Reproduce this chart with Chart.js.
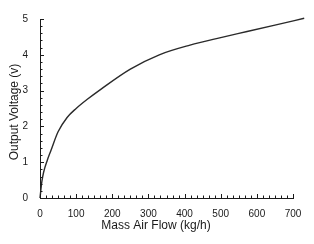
<!DOCTYPE html>
<html>
<head>
<meta charset="utf-8">
<script src="https://cdn.jsdelivr.net/npm/chart.js@4"></script>
<style>
  html, body { margin: 0; padding: 0; background: #fff; }
  #wrap { width: 314px; height: 244px; }
</style>
</head>
<body>
<div id="wrap"><canvas id="c" width="314" height="244"></canvas></div>
<script>
// values
const massFlow = [0, 5, 10, 20, 30, 50, 75, 100, 130, 170, 250, 330, 415, 500, 573, 650, 731];
const voltage  = [0, 0.45, 0.72, 1.05, 1.32, 1.85, 2.25, 2.5, 2.75, 3.05, 3.6, 4.0, 4.27, 4.48, 4.65, 4.83, 5.02];
const xTickLabels = [0, 100, 200, 300, 400, 500, 600, 700];
const yTickLabels = [0, 1, 2, 3, 4, 5];
const xTitle = 'Mass Air Flow (kg/h)';
const yTitle = 'Output Voltage (v)';

const FONT = "'Liberation Sans', Arial, sans-serif";
const INK = '#1a1a1a';

function isMajor(v, list) { return list.some(t => Math.abs(t - v) < 1e-6); }

// inward tick marks + axis titles
const axisDecor = {
  id: 'axisDecor',
  afterDraw(chart) {
    const ctx = chart.ctx;
    const xs = chart.scales.x, ys = chart.scales.y;
    const a = chart.chartArea;
    ctx.save();
    ctx.strokeStyle = INK;
    ctx.lineWidth = 1;
    ctx.beginPath();
    xs.ticks.forEach(t => {
      const px = Math.round(xs.getPixelForValue(t.value)) + 0.5;
      const len = isMajor(t.value, xTickLabels) ? 4 : 2.5;
      ctx.moveTo(px, a.bottom);
      ctx.lineTo(px, a.bottom - len);
    });
    ys.ticks.forEach(t => {
      const py = Math.round(ys.getPixelForValue(t.value)) + 0.5;
      const len = isMajor(t.value, yTickLabels) ? 4 : 2.5;
      ctx.moveTo(a.left, py);
      ctx.lineTo(a.left + len, py);
    });
    ctx.stroke();

    ctx.fillStyle = INK;
    ctx.font = '12px ' + FONT;
    ctx.textAlign = 'center';
    ctx.textBaseline = 'middle';
    ctx.fillText(xTitle, 156, 226);
    ctx.translate(15, 112);
    ctx.rotate(-Math.PI / 2);
    ctx.fillText(yTitle, 0, 0);
    ctx.restore();
  }
};

new Chart(document.getElementById('c').getContext('2d'), {
  type: 'scatter',
  data: {
    datasets: [{
      data: massFlow.map((x, i) => ({ x: x, y: voltage[i] })),
      showLine: true,
      borderColor: '#2a2a2a',
      borderWidth: 1.4,
      pointRadius: 0,
      cubicInterpolationMode: 'monotone',
      clip: false
    }]
  },
  options: {
    responsive: false,
    animation: false,
    layout: { padding: { left: 0, right: 21, top: 19, bottom: 0 } },
    plugins: { legend: { display: false }, tooltip: { enabled: false } },
    scales: {
      x: {
        type: 'linear',
        min: 0, max: 700,
        grid: { display: false },
        border: { display: true, color: INK, width: 1 },
        ticks: {
          stepSize: 100 / 6,
          autoSkip: false,
          maxRotation: 0,
          padding: 2,
          color: INK,
          font: { family: FONT, size: 10 },
          callback: v => isMajor(v, xTickLabels) ? String(Math.round(v)) : ''
        },
        afterFit: s => { s.height = 46; }
      },
      y: {
        min: 0, max: 5,
        grid: { display: false },
        border: { display: true, color: INK, width: 1 },
        ticks: {
          stepSize: 0.2,
          autoSkip: false,
          padding: 4,
          color: INK,
          font: { family: FONT, size: 10 },
          callback: v => isMajor(v, yTickLabels) ? String(Math.round(v)) : ''
        },
        afterFit: s => { s.width = 40; }
      }
    }
  },
  plugins: [axisDecor]
});
</script>
</body>
</html>
